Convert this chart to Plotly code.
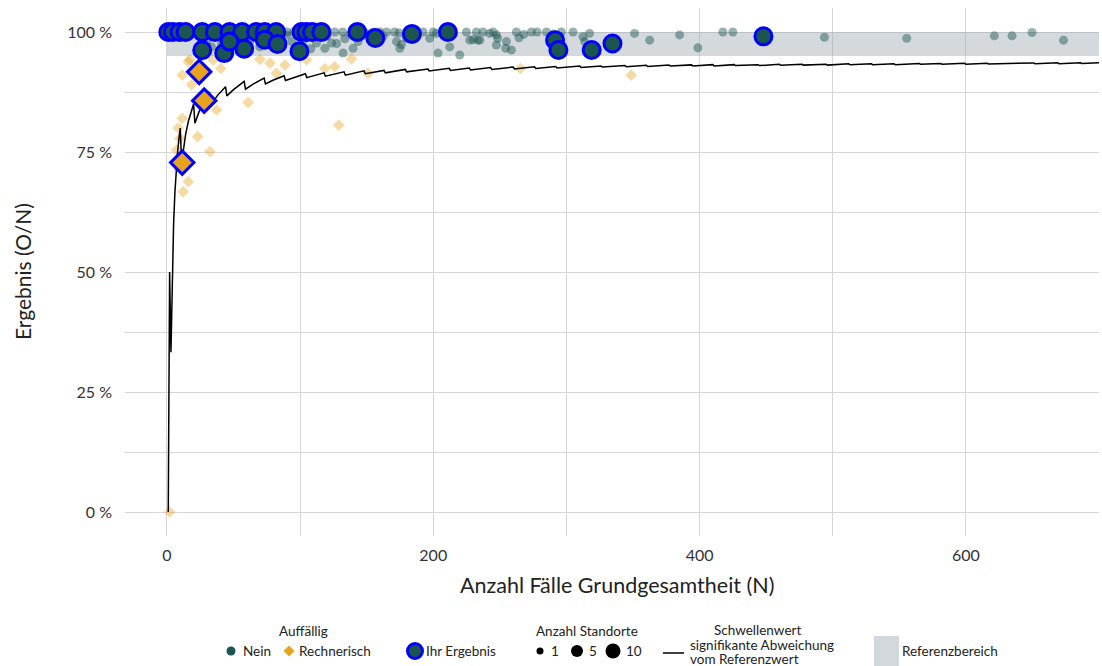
import plotly.graph_objects as go

# ---------------- data ----------------
# Auffällig = Nein (translucent teal circles)
nein_n = [33.5, 41, 51, 62.3, 69.8, 69.8, 89.8, 93.6, 97.3, 118.6, 127.4, 132.3, 139.8, 143.6,
          162.3, 172.4, 174.9, 179.9, 197.4, 202.4, 212.4, 219.9, 227.4, 233.6, 247.4, 29.8, 37.3, 57.3,
          132, 123.6, 148.6, 164.9, 174.3, 176.1, 192.4, 200, 203.6, 224.9, 232.4, 229.9, 126, 112.3,
          120, 133.6, 160, 171,
          237.4, 242.4, 248.4, 247.4, 255, 254.4, 258.7, 262.4, 264.4, 273.7, 285, 296.2, 312.4, 317.4,
          313.7, 351.2, 362.5, 385, 398.7, 417.5, 425, 235,
          493.8, 555.6, 621.4, 634.7, 649.7, 673.4,
          3, 6, 10, 16, 20, 24, 30, 34, 40, 45, 50, 54, 60, 64, 70, 78, 86, 90, 95, 100, 106, 110, 115,
          138, 145, 152, 155, 182, 186, 208, 215, 245, 268, 278, 290, 305,
          25, 45, 55, 80, 85, 103, 108]
nein_v = [96.9, 97.6, 98.3, 98.1, 98.7, 96.9, 99.4, 98.0, 96.6, 96.6, 97.6, 95.6, 96.6, 98.0,
          99.0, 98.0, 96.6, 98.7, 98.7, 99.7, 96.9, 95.2, 98.3, 98.3, 99.4, 98.0, 99.4, 99.7,
          100, 97.7, 99.8, 100, 99.8, 97.4, 100, 100, 95.6, 100, 100, 98.4, 100, 97.7,
          99.1, 98.6, 100, 100,
          100, 99.7, 98.7, 97.3, 98.0, 96.6, 96.25, 100, 98.8, 100, 100, 100, 99.0, 99.7,
          98.0, 99.7, 98.3, 99.4, 96.7, 100, 100, 98.3,
          98.9, 98.7, 99.2, 99.2, 99.9, 98.3,
          100, 100, 100, 100, 100, 100, 100, 100, 100, 100, 99.6, 100, 100, 99.5, 100, 100, 99.6, 100, 100, 99.5, 100, 99.7, 100,
          99.5, 100, 99.6, 100, 100, 99.5, 100, 99.6, 100, 99.5, 100, 99.6, 100,
          97.5, 96.5, 97.2, 98.2, 97.0, 98.5, 96.5]

# Auffällig = Rechnerisch (translucent orange diamonds)
rech_n = [16, 11.5, 18.5, 11.5, 9.8, 7.3, 16, 12.2, 23, 32.3, 37.3, 61, 40.5, 34.7, 77.3, 69.8,
          88.6, 82.3, 104.8, 118.6, 126, 129, 17.3, 138.6, 151, 265.4, 348.7, 8.5, 2]
rech_v = [93.8, 91.0, 89.0, 82.0, 77.8, 75.4, 68.8, 66.7, 78.2, 75.1, 83.75, 85.3, 92.4, 94.2, 93.5, 94.3,
          93.1, 91.4, 94.2, 92.4, 92.8, 80.6, 94.2, 94.4, 91.4, 92.4, 91.0, 80.0, 0]

# Ihr Ergebnis - Nein (blue outlined circles)
own_n = [1, 4.5, 9.5, 14, 26.5, 36, 47, 56.5, 67, 73.5, 82, 101, 104.8, 109, 116, 143, 184, 211,
         26.5, 43, 58, 47, 73.5, 83, 99.5, 156.5, 291.5, 294, 319, 334.6, 448]
own_v = [100, 100, 100, 100, 100, 100, 100, 100, 100, 100, 100, 100, 100, 100, 100, 100, 99.6, 100,
         96.2, 95.6, 96.5, 98.0, 98.4, 97.5, 96.0, 98.75, 98.3, 96.25, 96.25, 97.6, 99.1]

# Ihr Ergebnis - Rechnerisch (blue outlined diamonds)
own_r_n = [11.5, 24.2, 28]
own_r_v = [72.8, 91.7, 85.7]

# Schwellenwert signifikante Abweichung vom Referenzwert (line vertices)
thr_n = [1, 2, 3, 4, 5, 6, 7, 8, 9, 10, 11, 12, 14, 16, 18, 20, 21, 24, 28, 32, 33, 38, 44, 45, 50, 58,
         59, 65, 73, 74, 80, 88, 89, 96, 104, 105, 118, 119, 133, 134, 148, 149, 163, 164, 179, 180,
         196, 197, 212, 213, 227, 228, 243, 244, 260, 261, 276, 277, 292, 293, 310, 311, 326, 327,
         344, 345, 360, 361, 377, 378, 394, 395, 410, 411, 426, 427, 444, 445, 460, 461, 477, 478,
         495, 496, 512, 513, 529, 530, 546, 547, 565, 566, 581, 582, 599, 600, 616, 617, 634, 635,
         651, 652, 669, 670, 686, 687, 700]
thr_v = [0, 50, 33.3, 50, 60, 66.7, 71.4, 75, 77.8, 80, 72.7, 75, 78.6, 81.3, 83.3, 85, 81, 83.3, 85.7,
         87.5, 84.8, 86.8, 88.6, 86.7, 88, 89.7, 88.1, 89.2, 90.4, 89.2, 90, 90.9, 89.9, 90.6, 91.3,
         90.5, 91.5, 90.8, 91.7, 91.0, 91.9, 91.3, 92.0, 91.5, 92.2, 91.7, 92.3, 91.9, 92.45, 92.0,
         92.5, 92.1, 92.6, 92.2, 92.7, 92.3, 92.75, 92.4, 92.8, 92.5, 92.9, 92.6, 92.9, 92.7, 93.0,
         92.75, 93.06, 92.8, 93.1, 92.9, 93.15, 92.9, 93.2, 92.9, 93.2, 93.0, 93.2, 93.0, 93.26,
         93.06, 93.3, 93.1, 93.3, 93.1, 93.36, 93.2, 93.4, 93.2, 93.4, 93.2, 93.45, 93.3, 93.46,
         93.3, 93.5, 93.3, 93.5, 93.35, 93.5, 93.4, 93.55, 93.4, 93.6, 93.4, 93.6, 93.45, 93.57]

ref_low, ref_high = 95, 100
x_ticks = [0, 200, 400, 600]
y_ticks = [0, 25, 50, 75, 100]
y_ticklabels = ["0 %", "25 %", "50 %", "75 %", "100 %"]

# ---------------- styling ----------------
TEAL = "#1B5550"
ORANGE = "#E9A21B"
BLUE = "#0000FF"
FONT = "Lato"

fig = go.Figure()

fig.add_trace(go.Scatter(x=nein_n, y=nein_v, mode="markers",
                         marker=dict(symbol="circle", size=9, color=TEAL, opacity=0.45),
                         showlegend=False, hoverinfo="skip"))
fig.add_trace(go.Scatter(x=rech_n, y=rech_v, mode="markers",
                         marker=dict(symbol="diamond", size=9, color=ORANGE, opacity=0.4),
                         showlegend=False, hoverinfo="skip"))
fig.add_trace(go.Scatter(x=thr_n, y=thr_v, mode="lines",
                         line=dict(color="black", width=1.5),
                         showlegend=False, hoverinfo="skip"))
fig.add_trace(go.Scatter(x=own_n, y=own_v, mode="markers",
                         marker=dict(symbol="circle", size=17, color=TEAL,
                                     line=dict(color=BLUE, width=3)),
                         showlegend=False, hoverinfo="skip"))
fig.add_trace(go.Scatter(x=own_r_n, y=own_r_v, mode="markers",
                         marker=dict(symbol="diamond", size=18, color=ORANGE,
                                     line=dict(color=BLUE, width=3)),
                         showlegend=False, hoverinfo="skip"))

# reference band
fig.add_shape(type="rect", xref="x", yref="y", x0=0, x1=700, y0=ref_low, y1=ref_high,
              fillcolor="rgba(160,170,180,0.45)", line=dict(width=0), layer="between")

# ---------------- layout geometry ----------------
W, H = 1102, 666
ML, MR, MT, MB = 125, 3, 8, 130
PW, PH = W - ML - MR, H - MT - MB


def px(x):
    return (x - ML) / PW


def py(y):
    return (H - MB - y) / PH


grid = "#D6D6D6"
fig.update_layout(
    width=W, height=H,
    margin=dict(l=ML, r=MR, t=MT, b=MB),
    paper_bgcolor="white", plot_bgcolor="white",
    font=dict(family=FONT, color="#333333"),
    xaxis=dict(range=[-31.5, 700], tickvals=x_ticks, showgrid=True, gridcolor=grid, gridwidth=1.3,
               zeroline=False, showline=False, ticks="", tickfont=dict(size=16, color="#333333"),
               ticklabelstandoff=8,
               minor=dict(dtick=100, tick0=0, showgrid=True, gridcolor=grid, gridwidth=1)),
    yaxis=dict(range=[-5, 105], tickvals=y_ticks, ticktext=y_ticklabels, showgrid=True,
               gridcolor=grid, gridwidth=1.3, zeroline=False, showline=False, ticks="",
               tickfont=dict(size=16, color="#333333"), ticklabelstandoff=12,
               minor=dict(dtick=12.5, tick0=0, showgrid=True, gridcolor=grid, gridwidth=1)),
)

ann = []
# axis titles
ann.append(dict(text="Anzahl Fälle Grundgesamtheit (N)", x=px(617), y=py(585), xref="paper", yref="paper",
                showarrow=False, font=dict(size=21.5, color="#222222", family=FONT),
                xanchor="center", yanchor="middle"))
ann.append(dict(text="Ergebnis (O/N)", x=px(22), y=py(272), xref="paper", yref="paper",
                showarrow=False, textangle=-90, font=dict(size=21, color="#222222", family=FONT),
                xanchor="center", yanchor="middle"))


def label(text, x, y, anchor="left", size=13.5):
    ann.append(dict(text=text, x=px(x), y=py(y), xref="paper", yref="paper", showarrow=False,
                    font=dict(size=size, color="#222222", family=FONT),
                    xanchor=anchor, yanchor="middle"))


shapes = []


def circle(x, y, d, fill, line_color=None, lw=0):
    r = d / 2
    shapes.append(dict(type="circle", xref="paper", yref="paper", xsizemode="pixel", ysizemode="pixel",
                       xanchor=px(x), yanchor=py(y), x0=-r, x1=r, y0=-r, y1=r, fillcolor=fill,
                       line=dict(color=line_color or fill, width=lw)))


def diamond(x, y, r, fill):
    shapes.append(dict(type="path", xref="paper", yref="paper", xsizemode="pixel", ysizemode="pixel",
                       xanchor=px(x), yanchor=py(y),
                       path=f"M 0 {r} L {r} 0 L 0 {-r} L {-r} 0 Z",
                       fillcolor=fill, line=dict(color=fill, width=0)))


# legend: Auffällig
label("Auffällig", 303, 631, "center")
circle(231, 651, 9, TEAL)
label("Nein", 241, 651)
diamond(289, 651, 5.5, ORANGE)
label("Rechnerisch", 297, 651)
# Ihr Ergebnis
circle(415, 651, 15, TEAL, BLUE, 3)
label("Ihr Ergebnis", 424, 651)
# Anzahl Standorte
label("Anzahl Standorte", 587, 631, "center")
circle(540, 651, 7, "black")
label("1", 549, 651)
circle(577, 651, 12, "black")
label("5", 587, 651)
circle(613, 651, 15, "black")
label("10", 624, 651)
# Schwellenwert
shapes.append(dict(type="line", xref="paper", yref="paper", x0=px(663), x1=px(684), y0=py(653), y1=py(653),
                   line=dict(color="black", width=1.5)))
label("Schwellenwert", 757, 630, "center")
label("signifikante Abweichung", 688, 645)
label("vom Referenzwert", 688, 659)
# Referenzbereich
shapes.append(dict(type="rect", xref="paper", yref="paper", x0=px(874), x1=px(899), y0=py(636), y1=py(668),
                   fillcolor="#D3D8DC", line=dict(width=0)))
label("Referenzbereich", 900, 651)

fig.update_layout(annotations=ann)
for s in shapes:
    fig.add_shape(**s)

fig.write_html("out.html")
